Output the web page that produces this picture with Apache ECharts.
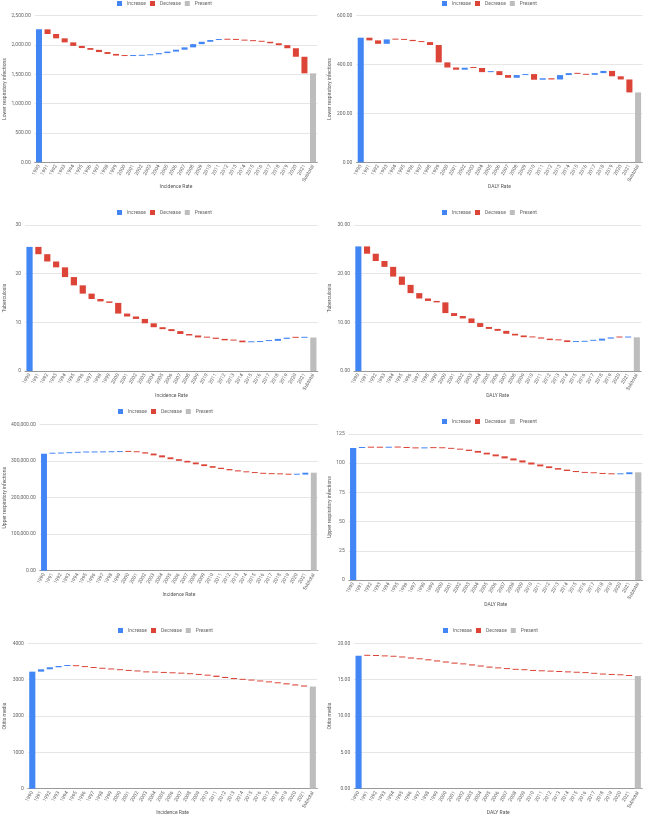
<!DOCTYPE html>
<html>
<head>
<meta charset="utf-8">
<script src="https://cdn.jsdelivr.net/npm/echarts@6/dist/echarts.min.js"></script>
<style>
  html, body { margin: 0; padding: 0; background: #fff; }
  #main { width: 650px; height: 820px; }
</style>
</head>
<body>
<div id="main"></div>
<script>
// categories: start year, yearly changes, then the subtotal column
var categories = ['1990','1991','1992','1993','1994','1995','1996','1997','1998','1999',
  '2000','2001','2002','2003','2004','2005','2006','2007','2008','2009',
  '2010','2011','2012','2013','2014','2015','2016','2017','2018','2019',
  '2020','2021','Subtotal'];

// rates per year 1990..2021
var incLRI = [2267, 2188, 2114, 2045, 1985, 1948, 1918, 1880, 1848, 1820,
  1812, 1816, 1826, 1842, 1862, 1888, 1920, 1960, 2015, 2055,
  2085, 2092, 2090, 2087, 2075, 2066, 2055, 2030, 1998, 1945,
  1800, 1517];
var dalyLRI = [510, 499, 485, 503, 502, 501, 496, 492, 480, 409,
  388, 379, 387, 386, 369, 373, 357, 346, 357, 361,
  338, 344, 339, 357, 365, 362, 358, 365, 374, 352,
  339, 286];
var incTB = [25.5, 24.0, 22.5, 21.3, 19.3, 17.6, 15.9, 14.8, 14.3, 14.0,
  11.8, 11.2, 10.7, 9.8, 9.0, 8.6, 8.2, 7.6, 7.3, 6.9,
  6.85, 6.6, 6.3, 6.25, 5.9, 5.95, 6.15, 6.2, 6.6, 6.85,
  6.82, 6.88];
var dalyTB = [25.6, 24.1, 22.6, 21.4, 19.4, 17.7, 16.0, 14.9, 14.4, 14.1,
  11.9, 11.3, 10.8, 9.85, 9.05, 8.65, 8.25, 7.65, 7.3, 6.95,
  6.9, 6.65, 6.35, 6.3, 5.95, 6.0, 6.2, 6.25, 6.65, 6.9,
  6.88, 6.92];
var incURI = [320500, 321000, 322000, 323000, 323800, 324000, 324200, 324500, 325000, 325800,
  325500, 324500, 321000, 316000, 310500, 305500, 301000, 296500, 291500, 286500,
  282000, 278500, 275000, 272000, 269500, 267500, 265500, 264500, 264000, 263000,
  263300, 268500];
var dalyURI = [113.0, 113.6, 113.3, 113.25, 113.6, 113.4, 113.0, 112.7, 113.0, 112.9,
  112.8, 112.3, 111.6, 110.5, 109.0, 107.5, 105.9, 104.1, 102.4, 100.6,
  98.9, 97.3, 95.8, 94.5, 93.3, 92.4, 91.7, 91.4, 90.8, 90.5,
  90.6, 92.2];
var incOM = [3220, 3285, 3340, 3375, 3380, 3370, 3345, 3320, 3300, 3280,
  3260, 3240, 3225, 3200, 3195, 3185, 3175, 3165, 3150, 3130,
  3110, 3075, 3045, 3015, 2995, 2975, 2950, 2925, 2900, 2870,
  2840, 2810];
var dalyOM = [18.3, 18.28, 18.25, 18.2, 18.15, 18.05, 17.9, 17.8, 17.65, 17.5,
  17.35, 17.2, 17.1, 16.95, 16.8, 16.65, 16.55, 16.45, 16.35, 16.3,
  16.2, 16.15, 16.1, 16.05, 16.0, 15.95, 15.9, 15.8, 15.7, 15.65,
  15.6, 15.5];

var legendNames = ['Increase', 'Decrease', 'Present'];

function fmt2(v) {
  return v.toLocaleString('en-US', {minimumFractionDigits: 2, maximumFractionDigits: 2});
}
function fmt0(v) { return String(v); }

var panels = [
  {d: incLRI, y: 'Lower respiratory infections', x: 'Incidence Rate', max: 2500, step: 500, f: fmt2,
    g: [34.7, 15.7, 282.6, 146.6], lt: 1, ll: 117, yg: 27.7},
  {d: dalyLRI, y: 'Lower respiratory infections', x: 'DALY Rate', max: 600, step: 200, f: fmt2,
    g: [356.4, 15.7, 286, 146.6], lt: 1, ll: 442, yg: 24.4},
  {d: incTB, y: 'Tuberculosis', x: 'Incidence Rate', max: 30, step: 10, f: fmt0,
    g: [25.1, 225, 292.7, 146], lt: 210, ll: 117, yg: 18},
  {d: dalyTB, y: 'Tuberculosis', x: 'DALY Rate', max: 30, step: 10, f: fmt2,
    g: [354, 225, 287.2, 146], lt: 210, ll: 442, yg: 22},
  {d: incURI, y: 'Upper respiratory infections', x: 'Incidence Rate', max: 400000, step: 100000, f: fmt2,
    g: [39.8, 424.7, 278.2, 146], lt: 409, ll: 118, yg: 32.8},
  {d: dalyURI, y: 'Upper respiratory infections', x: 'DALY Rate', max: 125, step: 25, f: fmt0,
    g: [348.7, 434, 294, 146], lt: 419, ll: 442, yg: 16.7},
  {d: incOM, y: 'Otitis media', x: 'Incidence Rate', max: 4000, step: 1000, f: fmt0,
    g: [27.9, 643.3, 289.3, 145.4], lt: 628, ll: 118, yg: 21},
  {d: dalyOM, y: 'Otitis media', x: 'DALY Rate', max: 20, step: 5, f: fmt2,
    g: [354.2, 643.3, 288, 145.4], lt: 628, ll: 443, yg: 22}
];

var option = {
  animation: false,
  backgroundColor: '#fff',
  textStyle: {fontFamily: 'Roboto, Arial, sans-serif'},
  grid: [], xAxis: [], yAxis: [], legend: [], series: []
};

panels.forEach(function (p, i) {
  // waterfall pieces
  var base = [], inc = [], dec = [], pres = [];
  p.d.forEach(function (v, k) {
    if (k === 0) {
      base.push(0); inc.push(v); dec.push('-'); pres.push('-');
      return;
    }
    var prev = p.d[k - 1];
    base.push(Math.min(prev, v));
    inc.push(v > prev ? +(v - prev).toFixed(4) : '-');
    dec.push(v < prev ? +(prev - v).toFixed(4) : '-');
    pres.push('-');
  });
  base.push(0); inc.push('-'); dec.push('-'); pres.push(p.d[p.d.length - 1]);

  option.grid.push({left: p.g[0], top: p.g[1], width: p.g[2], height: p.g[3], outerBoundsMode: 'none'});
  option.legend.push({
    data: legendNames, top: p.lt, left: p.ll, padding: 0,
    icon: 'rect', itemWidth: 5, itemHeight: 5, itemGap: 4,
    textStyle: {fontSize: 5, color: '#666'}
  });
  option.xAxis.push({
    gridIndex: i, type: 'category', data: categories,
    axisTick: {show: false},
    axisLine: {lineStyle: {color: '#999', width: 1}},
    axisLabel: {interval: 0, rotate: 60, fontSize: 5, color: '#666', margin: 3},
    name: p.x, nameLocation: 'middle', nameGap: 22, nameMoveOverlap: false,
    nameTextStyle: {fontSize: 5, color: '#555'}
  });
  option.yAxis.push({
    gridIndex: i, type: 'value', min: 0, max: p.max, interval: p.step,
    axisLine: {show: false}, axisTick: {show: false},
    splitLine: {lineStyle: {color: '#e6e6e6', width: 1}},
    axisLabel: {fontSize: 5, color: '#666', margin: 4, formatter: p.f},
    name: p.y, nameLocation: 'middle', nameGap: p.yg, nameMoveOverlap: false,
    nameTextStyle: {fontSize: 5, color: '#555'}
  });

  var common = {type: 'bar', xAxisIndex: i, yAxisIndex: i, stack: 'w' + i,
    barCategoryGap: '30%', emphasis: {disabled: true}};
  option.series.push(Object.assign({}, common, {
    name: 'base', data: base, silent: true, itemStyle: {color: 'rgba(0,0,0,0)'}
  }));
  option.series.push(Object.assign({}, common, {
    name: 'Increase', data: inc, barMinHeight: 1, itemStyle: {color: '#4285f4'}
  }));
  option.series.push(Object.assign({}, common, {
    name: 'Decrease', data: dec, barMinHeight: 1, itemStyle: {color: '#db4437'}
  }));
  option.series.push(Object.assign({}, common, {
    name: 'Present', data: pres, itemStyle: {color: '#bdbdbd'}
  }));
});

var myChart = echarts.init(document.getElementById('main'));
myChart.setOption(option);
window.onresize = myChart.resize;
</script>
</body>
</html>
